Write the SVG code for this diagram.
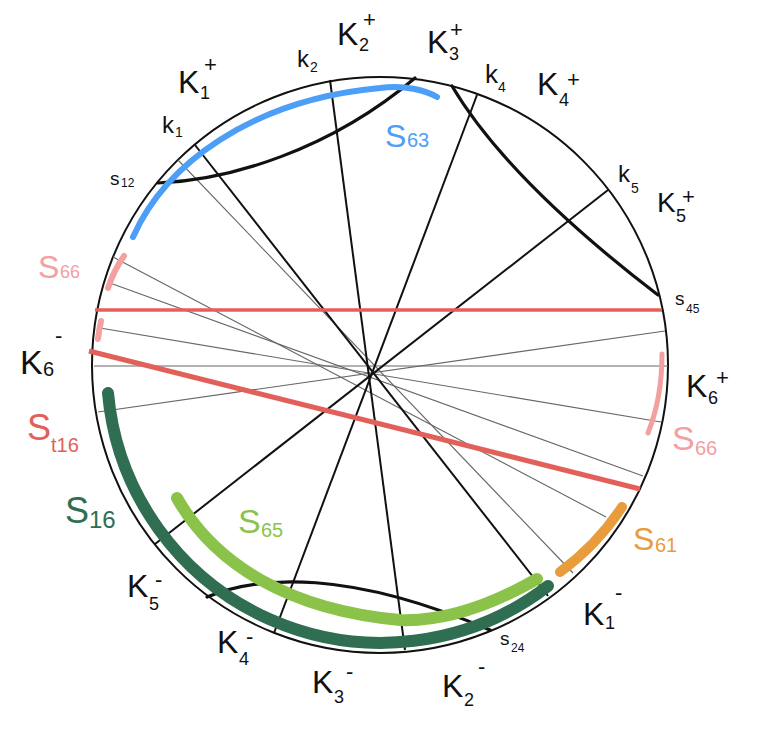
<svg xmlns="http://www.w3.org/2000/svg" width="778" height="730" viewBox="0 0 778 730">
<style>
text{font-family:"Liberation Sans","DejaVu Sans",sans-serif;fill:#111}
.K{font-size:32px}
.sb{font-size:18px}
.sp{font-size:22px}
.k{font-size:24px}
.ks{font-size:14px}
.s{font-size:19px}
.ss{font-size:12px}
.gray{stroke:#666;stroke-width:1.1;fill:none}
.blk{stroke:#111;stroke-width:2;fill:none}
.thick{stroke:#111;stroke-width:3.2;fill:none;stroke-linecap:round}
.arc{fill:none;stroke-linecap:round}
</style>
<rect width="778" height="730" fill="#fff"/>
<g id="circle"><circle cx="380" cy="365" r="288" fill="none" stroke="#111" stroke-width="2"/></g>
<g id="connectors">
<line class="gray" x1="178" y1="160" x2="573" y2="573"/>
<line class="gray" x1="113" y1="257" x2="606" y2="517"/>
<line class="gray" x1="110" y1="283" x2="643" y2="476"/>
<line class="gray" x1="100" y1="328" x2="661" y2="422"/>
<line class="gray" x1="94" y1="366" x2="668" y2="366"/>
<line class="gray" x1="98" y1="412" x2="665" y2="331"/>
<line class="blk" x1="195" y1="145" x2="548" y2="596"/>
<line class="blk" x1="330" y1="80" x2="405" y2="650"/>
<line class="blk" x1="477" y1="95" x2="274" y2="633"/>
<line class="blk" x1="608" y1="190" x2="155" y2="544"/>
<path class="thick" d="M158,183 C230,180 330,150 415,78"/>
<path class="thick" d="M452,86 C490,150 560,220 658,295"/>
<path class="thick" d="M207,597 C260,575 350,570 490,630"/>
<line x1="95" y1="310" x2="662" y2="310" stroke="#e3605a" stroke-width="3.5"/>
<line x1="89" y1="351" x2="640" y2="489" stroke="#e3605a" stroke-width="5"/>
</g>
<g id="arcs">
<path id="S63-arc" class="arc" d="M133,237 C165,165 250,100 380,88 C405,85 425,90 437,97" stroke="#4d9ef6" stroke-width="6"/>
<path id="S66-arc-l1" class="arc" d="M124,256 Q114,270 108,288" stroke="#f2a0a0" stroke-width="6"/>
<path id="S66-arc-l2" class="arc" d="M101,321 Q99,330 98,339" stroke="#f2a0a0" stroke-width="6"/>
<path id="S66-arc-r" class="arc" d="M662,354 Q662,398 648,433" stroke="#f2a0a0" stroke-width="5"/>
<path id="S61-arc" class="arc" d="M622,507 Q597,545 560,572" stroke="#e89c3c" stroke-width="10"/>
<path id="S16-arc" class="arc" d="M108,393 A274,274 0 0 0 548,586" stroke="#2f6e51" stroke-width="12"/>
<path id="S65-arc" class="arc" d="M177,498 C215,565 290,610 400,620 C450,622 500,600 537,579" stroke="#8bc34a" stroke-width="12"/>
</g>
<g id="K1p"><text class="K" x="178" y="93">K</text><text class="sb" x="200" y="99">1</text><text class="sp" x="204" y="72">+</text></g>
<g id="K2p"><text class="K" x="337" y="45">K</text><text class="sb" x="359" y="51">2</text><text class="sp" x="363" y="27">+</text></g>
<g id="K3p"><text class="K" x="427" y="53">K</text><text class="sb" x="449" y="60">3</text><text class="sp" x="450" y="37">+</text></g>
<g id="K4p"><text class="K" x="537" y="95">K</text><text class="sb" x="559" y="106">4</text><text class="sp" x="567" y="87">+</text></g>
<g id="K5p"><text class="K" x="657" y="212" style="font-size:28px">K</text><text class="sb" x="676" y="222">5</text><text class="sp" x="682" y="204">+</text></g>
<g id="K6p"><text class="K" x="686" y="397">K</text><text class="sb" x="708" y="404">6</text><text class="sp" x="716" y="385">+</text></g>
<g id="K6m"><text class="K" x="20" y="374" style="font-size:34px">K</text><text class="sb" x="43" y="376" style="font-size:20px">6</text><text class="sp" x="55" y="343">-</text></g>
<g id="K1m"><text class="K" x="583" y="625">K</text><text class="sb" x="605" y="629">1</text><text class="sp" x="615" y="600">-</text></g>
<g id="K2m"><text class="K" x="442" y="697">K</text><text class="sb" x="464" y="706">2</text><text class="sp" x="478" y="674">-</text></g>
<g id="K3m"><text class="K" x="312" y="693">K</text><text class="sb" x="334" y="703">3</text><text class="sp" x="346" y="679">-</text></g>
<g id="K4m"><text class="K" x="217" y="653">K</text><text class="sb" x="239" y="665">4</text><text class="sp" x="246" y="644">-</text></g>
<g id="K5m"><text class="K" x="127" y="597">K</text><text class="sb" x="149" y="610">5</text><text class="sp" x="155" y="587">-</text></g>
<g id="k1"><text class="k" x="162" y="133">k</text><text class="ks" x="175" y="137">1</text></g>
<g id="k2"><text class="k" x="297" y="67">k</text><text class="ks" x="310" y="72">2</text></g>
<g id="k4"><text class="k" x="485" y="83" style="font-size:26px">k</text><text class="ks" x="498" y="92">4</text></g>
<g id="k5"><text class="k" x="618" y="182">k</text><text class="ks" x="631" y="193">5</text></g>
<g id="s12"><text class="s" x="110" y="185">s</text><text class="ss" x="121" y="187">12</text></g>
<g id="s45"><text class="s" x="675" y="305">s</text><text class="ss" x="686" y="313">45</text></g>
<g id="s24"><text class="s" x="500" y="645">s</text><text class="ss" x="511" y="652">24</text></g>
<g id="S63"><text x="385" y="147" style="font-size:32px;fill:#4d9ef6">S</text><text x="407" y="147" style="font-size:20px;fill:#4d9ef6">63</text></g>
<g id="S66l"><text x="38" y="278" style="font-size:32px;fill:#f2a0a0">S</text><text x="60" y="278" style="font-size:18px;fill:#f2a0a0">66</text></g>
<g id="S66r"><text x="672" y="450" style="font-size:34px;fill:#f2a0a0">S</text><text x="695" y="455" style="font-size:20px;fill:#f2a0a0">66</text></g>
<g id="St16"><text x="27" y="440" style="font-size:36px;fill:#e3605a">S</text><text x="51" y="452" style="font-size:20px;fill:#e3605a">t16</text></g>
<g id="S16"><text x="65" y="523" style="font-size:36px;fill:#2f6e51">S</text><text x="89" y="528" style="font-size:24px;fill:#2f6e51">16</text></g>
<g id="S65"><text x="238" y="533" style="font-size:34px;fill:#8bc34a">S</text><text x="261" y="537" style="font-size:20px;fill:#8bc34a">65</text></g>
<g id="S61"><text x="633" y="550" style="font-size:32px;fill:#e89c3c">S</text><text x="655" y="552" style="font-size:20px;fill:#e89c3c">61</text></g>
</svg>
